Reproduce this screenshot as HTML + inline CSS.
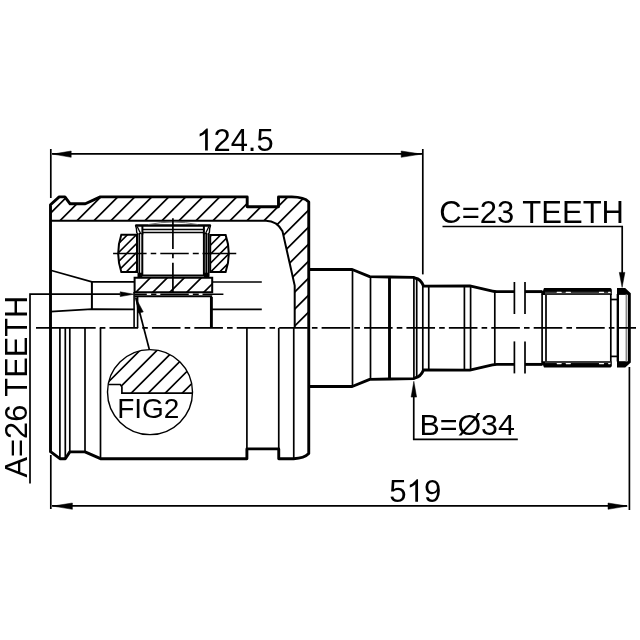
<!DOCTYPE html><html><head><meta charset="utf-8"><style>html,body{margin:0;padding:0;background:#fff;}svg{display:block;will-change:transform;font-family:"Liberation Sans",sans-serif;}</style></head><body><svg width="640" height="640" viewBox="0 0 640 640"><defs><clipPath id="chous"><path d="M50.5 204.8L59.2 196.9L64.9 196.9L70.1 203.8L85.3 203.8L100.3 196.9L247.2 196.9L247.2 206.8L278.5 206.8L278.5 196.9L291.9 196.9Q304 197 308.75 201.9L308.75 327.6L294.7 327.6L294.7 285.6L282.5 231.25Q277 220.9 266 220.75L50.5 220.75Z"/></clipPath><clipPath id="crace"><path d="M134.6 277.8L212.2 277.8L212.2 292.3L134.6 292.3Z"/></clipPath><clipPath id="clring"><path d="M121.3 234.75L137 234.75L137 272L121.3 272Q115.1 253.4 121.3 234.75Z"/></clipPath><clipPath id="crring"><path d="M210.2 234.9L225.6 234.9Q232 253.5 225.6 272.1L210.2 272.1Z"/></clipPath><clipPath id="ccirc"><circle cx="150" cy="392.1" r="42.5"/></clipPath><clipPath id="cfig"><path d="M100 384.5L120.3 384.5L121.9 386.9L121.9 393.1L200 393.1L200 340L100 340Z"/></clipPath></defs><rect width="640" height="640" fill="#fff"/><g stroke="#000" stroke-linecap="butt" fill="none"><path clip-path="url(#chous)" d="M45.00 184.70L315.00 -85.30M45.00 201.70L315.00 -68.30M45.00 218.70L315.00 -51.30M45.00 235.70L315.00 -34.30M45.00 252.70L315.00 -17.30M45.00 269.70L315.00 -0.30M45.00 286.70L315.00 16.70M45.00 303.70L315.00 33.70M45.00 320.70L315.00 50.70M45.00 337.70L315.00 67.70M45.00 354.70L315.00 84.70M45.00 371.70L315.00 101.70M45.00 388.70L315.00 118.70M45.00 405.70L315.00 135.70M45.00 422.70L315.00 152.70M45.00 439.70L315.00 169.70M45.00 456.70L315.00 186.70M45.00 473.70L315.00 203.70M45.00 490.70L315.00 220.70M45.00 507.70L315.00 237.70M45.00 524.70L315.00 254.70M45.00 541.70L315.00 271.70M45.00 558.70L315.00 288.70M45.00 575.70L315.00 305.70M45.00 592.70L315.00 322.70M45.00 609.70L315.00 339.70" stroke-width="1.7" fill="none"/><path d="M50.5 451.7L50.5 204.8L59.2 196.9L64.9 196.9L70.1 203.8L85.3 203.8L100.3 196.9L247.2 196.9L247.2 206.8L278.5 206.8L278.5 196.9L291.9 196.9Q304 197 308.75 201.9L308.75 453.6Q304 458.5 293.75 458.7L278.75 458.7L278.75 448.9L246.9 448.9L246.9 458.7L100.5 458.7L85 451.9L69.8 451.9L65.3 458.7L59.9 458.7L50.5 451.7Z" stroke-width="2.9" fill="none" stroke-linejoin="round"/><path d="M50.5 220.75L266 220.75Q277 220.9 282.5 231.25L294.7 285.6L294.7 327.6" stroke-width="2.0" fill="none" /><line x1="59.9" y1="327.8" x2="59.9" y2="458.7" stroke-width="1.7" /><line x1="65.3" y1="327.8" x2="65.3" y2="458.7" stroke-width="1.7" /><line x1="69.8" y1="327.8" x2="69.8" y2="451.9" stroke-width="1.7" /><line x1="85" y1="327.8" x2="85" y2="451.9" stroke-width="1.7" /><line x1="100.5" y1="327.8" x2="100.5" y2="458.7" stroke-width="1.7" /><line x1="246.9" y1="327.8" x2="246.9" y2="448.9" stroke-width="1.7" /><line x1="278.75" y1="327.8" x2="278.75" y2="448.9" stroke-width="1.7" /><line x1="293.75" y1="327.8" x2="293.75" y2="458.7" stroke-width="1.7" /><path d="M50.5 270.3L91.9 281.9L134.4 281.9" stroke-width="1.7" fill="none" /><path d="M50.5 311.6L91.9 309.2L134.4 309.4" stroke-width="1.7" fill="none" /><line x1="91.9" y1="281.9" x2="91.9" y2="309.2" stroke-width="2.0" /><line x1="212.2" y1="282" x2="261.8" y2="282" stroke-width="1.7" /><line x1="211.25" y1="309.4" x2="261.8" y2="309.4" stroke-width="1.7" /><path clip-path="url(#crace)" d="M130.00 264.10L215.00 179.10M130.00 281.10L215.00 196.10M130.00 298.10L215.00 213.10M130.00 315.10L215.00 230.10M130.00 332.10L215.00 247.10M130.00 349.10L215.00 264.10M130.00 366.10L215.00 281.10M130.00 383.10L215.00 298.10M130.00 400.10L215.00 315.10" stroke-width="1.7" fill="none"/><path d="M134.6 277.8L212.2 277.8L212.2 292.3L134.6 292.3Z" stroke-width="2.0" fill="none" /><line x1="134.6" y1="296.2" x2="212.2" y2="296.2" stroke-width="2.0" /><path d="M134.6 294.3L146.8 294.3M151.1 294.3L156.4 294.3M160.3 294.3L188.75 294.3M192.8 294.3L198.75 294.3M202.5 294.3L223.4 294.3" stroke-width="1.4"/><line x1="134.1" y1="292" x2="134.1" y2="328.0" stroke-width="1.6" /><line x1="137.6" y1="297" x2="137.6" y2="328.0" stroke-width="1.6" /><line x1="211.4" y1="297" x2="211.4" y2="328.0" stroke-width="2.9" /><rect x="137.5" y="272.7" width="5" height="4.7" fill="#000" stroke="none"/><rect x="203.9" y="272.7" width="5.5" height="4.7" fill="#000" stroke="none"/><path clip-path="url(#clring)" d="M110.00 225.20L140.00 195.20M110.00 234.20L140.00 204.20M110.00 243.20L140.00 213.20M110.00 252.20L140.00 222.20M110.00 261.20L140.00 231.20M110.00 270.20L140.00 240.20M110.00 279.20L140.00 249.20M110.00 288.20L140.00 258.20M110.00 297.20L140.00 267.20M110.00 306.20L140.00 276.20" stroke-width="1.6" fill="none"/><path clip-path="url(#crring)" d="M205.00 223.60L240.00 188.60M205.00 232.60L240.00 197.60M205.00 241.60L240.00 206.60M205.00 250.60L240.00 215.60M205.00 259.60L240.00 224.60M205.00 268.60L240.00 233.60M205.00 277.60L240.00 242.60M205.00 286.60L240.00 251.60M205.00 295.60L240.00 260.60M205.00 304.60L240.00 269.60M205.00 313.60L240.00 278.60" stroke-width="1.6" fill="none"/><path d="M121.3 234.75L137 234.75L137 272L121.3 272Q115.1 253.4 121.3 234.75Z" stroke-width="2.0" fill="none" /><path d="M210.2 234.9L225.6 234.9Q232 253.5 225.6 272.1L210.2 272.1Z" stroke-width="2.0" fill="none" /><line x1="135.4" y1="225.5" x2="210.7" y2="225.5" stroke-width="2.6" /><line x1="142.8" y1="229.4" x2="203.7" y2="229.4" stroke-width="1.5" /><line x1="142.8" y1="232.4" x2="203.7" y2="232.4" stroke-width="1.5" /><line x1="142.5" y1="275.4" x2="204.2" y2="275.4" stroke-width="2.0" /><line x1="139.3" y1="233" x2="139.3" y2="276" stroke-width="1.7" /><line x1="142.3" y1="233" x2="142.3" y2="276" stroke-width="2.0" /><line x1="203.9" y1="233" x2="203.9" y2="276" stroke-width="2.0" /><line x1="206.2" y1="233" x2="206.2" y2="276" stroke-width="1.7" /><line x1="208.4" y1="233" x2="208.4" y2="276" stroke-width="1.7" /><line x1="142.4" y1="225" x2="142.4" y2="234.5" stroke-width="2.0" /><line x1="203.9" y1="225" x2="203.9" y2="234.5" stroke-width="2.0" /><path d="M135.5 225L136.4 228.5L136.7 232.2L138 234.8" stroke-width="1.4" fill="none" /><path d="M210.6 225L209.7 228.5L209.4 232.2L208.1 234.8" stroke-width="1.4" fill="none" /><path d="M137.2 226.5L140.8 234" stroke-width="1.3" fill="none" /><path d="M208.9 226.5L205.3 234" stroke-width="1.3" fill="none" /><path d="M148 224.6Q173 219.5 198 224.6" stroke-width="0.9" fill="none" stroke="#666"/><path d="M113.1 253.5L146.6 253.5M150.7 253.5L156.25 253.5M160.3 253.5L188.75 253.5M192.8 253.5L198.75 253.5M202.5 253.5L236.25 253.5" stroke-width="1.7"/><path d="M172.9 218.3L172.9 248.9M172.9 253.5L172.9 258.2M172.9 262.8L172.9 292" stroke-width="1.7"/><path d="M308.75 269.5L352.2 269.5L369.7 276.6L389.5 277L413.5 277.4L415.5 278.3Q420.5 279 423.6 286.1L469.8 285.9L492.5 291.1Q494.5 291.6 497 291.6L514.4 291.6" stroke-width="2.9" fill="none" stroke-linejoin="round"/><path d="M525 291.6L542.5 291.6" stroke-width="2.9" fill="none" /><path d="M308.75 386.5L352.2 386.5L369.7 379.4L389.5 379.0L413.5 378.6L415.5 377.7Q420.5 377.0 423.6 369.9L469.8 370.1L492.5 364.9Q494.5 364.4 497 364.4L514.4 364.4" stroke-width="2.9" fill="none" stroke-linejoin="round"/><path d="M525 364.4L542.5 364.4" stroke-width="2.9" fill="none" /><line x1="352.5" y1="269.5" x2="352.5" y2="386.5" stroke-width="1.7" /><line x1="370.5" y1="276.6" x2="370.5" y2="379.4" stroke-width="1.7" /><line x1="389.5" y1="276.8" x2="389.5" y2="379.2" stroke-width="2.9" /><line x1="413.9" y1="277.5" x2="413.9" y2="378.5" stroke-width="1.7" /><line x1="416.7" y1="278.2" x2="416.7" y2="377.8" stroke-width="1.7" /><line x1="422.8" y1="286" x2="422.8" y2="370.0" stroke-width="1.7" /><line x1="428.75" y1="286" x2="428.75" y2="370.0" stroke-width="1.7" /><line x1="464.4" y1="285.8" x2="464.4" y2="370.2" stroke-width="1.7" /><line x1="470.6" y1="285.8" x2="470.6" y2="370.2" stroke-width="1.7" /><line x1="494.8" y1="291.3" x2="494.8" y2="364.7" stroke-width="1.7" /><line x1="542.1" y1="291" x2="542.1" y2="365.0" stroke-width="1.7" /><line x1="546" y1="291" x2="546" y2="365.0" stroke-width="1.7" /><line x1="514.4" y1="282" x2="514.4" y2="314" stroke-width="1.7" /><line x1="514.4" y1="341.4" x2="514.4" y2="373.4" stroke-width="1.7" /><line x1="525" y1="282" x2="525" y2="314" stroke-width="1.7" /><line x1="525" y1="341.4" x2="525" y2="373.4" stroke-width="1.7" /><path d="M541.5 294.9L544 288L610.5 288Q611.8 288.3 611.8 290L611.8 294.9Z" fill="#000" stroke="none"/><rect x="545" y="291.7" width="66.3" height="3" fill="#3a3a3a" stroke="none"/><path d="M541.5 361.2L544 367.5L610.5 367.5Q611.8 367.2 611.8 365.5L611.8 361.2Z" fill="#000" stroke="none"/><rect x="545" y="361.3" width="66.3" height="1.9" fill="#3a3a3a" stroke="none"/><line x1="557.2" y1="292.4" x2="561.2" y2="292.4" stroke="#fff" stroke-width="1.1" stroke-linecap="round"/><line x1="557.2" y1="363.6" x2="561.2" y2="363.6" stroke="#fff" stroke-width="1.1" stroke-linecap="round"/><line x1="566.2" y1="292.4" x2="570.4" y2="292.4" stroke="#fff" stroke-width="1.1" stroke-linecap="round"/><line x1="566.2" y1="363.6" x2="570.4" y2="363.6" stroke="#fff" stroke-width="1.1" stroke-linecap="round"/><line x1="599.4" y1="292.4" x2="603.6" y2="292.4" stroke="#fff" stroke-width="1.1" stroke-linecap="round"/><line x1="599.4" y1="363.6" x2="603.6" y2="363.6" stroke="#fff" stroke-width="1.1" stroke-linecap="round"/><line x1="608.6" y1="292.4" x2="610" y2="292.4" stroke="#fff" stroke-width="1.1" stroke-linecap="round"/><line x1="608.6" y1="363.6" x2="610" y2="363.6" stroke="#fff" stroke-width="1.1" stroke-linecap="round"/><line x1="610.8" y1="294" x2="610.8" y2="361.5" stroke-width="1.7" /><line x1="617.5" y1="294" x2="617.5" y2="361.5" stroke-width="1.7" /><line x1="611" y1="299.5" x2="617.5" y2="299.5" stroke-width="1.7" /><line x1="611" y1="356.4" x2="617.5" y2="356.4" stroke-width="1.7" /><path d="M617 294.9L617 288L625.2 288L630.8 293.3L630.8 362.5L625.2 367.5L617 367.5L617 361.2Z" fill="#000" stroke="none"/><rect x="619" y="294.9" width="8.9" height="66.3" fill="#fff" stroke="none"/><line x1="626.4" y1="294.5" x2="626.4" y2="361.5" stroke-width="1.7" stroke="#888"/><path d="M36 327.8L95.68 327.8M99.8 327.8L105.4 327.8M109.5 327.8L138.1 327.8M142.22 327.8L147.82 327.8M151.92 327.8L180.52 327.8M184.64 327.8L190.24 327.8M194.34 327.8L222.94 327.8M227.06 327.8L232.66 327.8M236.76 327.8L265.36 327.8M269.48 327.8L275.08 327.8M279.18 327.8L307.78 327.8M311.9 327.8L317.5 327.8M321.6 327.8L350.2 327.8M354.32 327.8L359.92 327.8M364.02 327.8L392.62 327.8M396.74 327.8L402.34 327.8M406.44 327.8L435.04 327.8M439.16 327.8L444.76 327.8M448.86 327.8L477.46 327.8M481.58 327.8L487.18 327.8M491.28 327.8L519.88 327.8M524.0 327.8L529.6 327.8M533.7 327.8L562.3 327.8M566.42 327.8L572.02 327.8M576.12 327.8L604.72 327.8M608.84 327.8L614.44 327.8M618.54 327.8L636 327.8" stroke-width="1.7"/><g clip-path="url(#ccirc)"><path clip-path="url(#cfig)" d="M100.00 339.35L200.00 239.35M100.00 356.35L200.00 256.35M100.00 373.35L200.00 273.35M100.00 390.35L200.00 290.35M100.00 407.35L200.00 307.35M100.00 424.35L200.00 324.35M100.00 441.35L200.00 341.35M100.00 458.35L200.00 358.35M100.00 475.35L200.00 375.35M100.00 492.35L200.00 392.35M100.00 509.35L200.00 409.35" stroke-width="1.7" fill="none"/><path d="M100 384.5L120.3 384.5L121.9 386.9L121.9 393.1L200 393.1" stroke-width="1.7" fill="none" /></g><circle cx="150" cy="392.1" r="42.5" stroke-width="1.4" fill="none"/><line x1="135.8" y1="297.5" x2="149.4" y2="349.7" stroke-width="1.7" /><path d="M135.7 297.8L143.3 311.9L138.3 313.1Z" fill="#000" stroke="#000" stroke-width="0.5" stroke-linejoin="round"/><line x1="50.8" y1="149" x2="50.8" y2="198" stroke-width="1.7" /><line x1="422.8" y1="149" x2="422.8" y2="274.4" stroke-width="1.7" /><line x1="52" y1="153.9" x2="422" y2="153.9" stroke-width="1.7" /><path d="M52.8 154.1L71.2 151.0L71.2 157.3Z" fill="#000" stroke="#000" stroke-width="0.5" stroke-linejoin="round"/><path d="M421.3 154.1L401.2 151.0L401.2 157.3Z" fill="#000" stroke="#000" stroke-width="0.5" stroke-linejoin="round"/><line x1="50.8" y1="455" x2="50.8" y2="509" stroke-width="1.7" /><line x1="629.4" y1="367" x2="629.4" y2="510" stroke-width="1.7" /><line x1="52" y1="505.9" x2="627" y2="505.9" stroke-width="1.7" /><path d="M52.8 506.1L72.4 503.0L72.4 509.3Z" fill="#000" stroke="#000" stroke-width="0.5" stroke-linejoin="round"/><path d="M627.4 506.1L608 503.0L608 509.3Z" fill="#000" stroke="#000" stroke-width="0.5" stroke-linejoin="round"/><path d="M442.5 226.5L622.2 226.5L622.2 280" stroke-width="1.7" fill="none" /><path d="M622.1 287.4L619.3 272.4L624.9 272.4Z" fill="#000" stroke="#000" stroke-width="0.5" stroke-linejoin="round"/><path d="M517.8 439.4L413.75 439.4L413.75 390" stroke-width="1.7" fill="none" /><path d="M413.85 381.3L411.1 397.1L416.6 397.1Z" fill="#000" stroke="#000" stroke-width="0.5" stroke-linejoin="round"/><path d="M30 483.5L30 294.2L120 294.2" stroke-width="1.7" fill="none" /><path d="M133.8 294.2L120.2 291.8L120.2 296.6Z" fill="#000" stroke="#000" stroke-width="0.5" stroke-linejoin="round"/></g><g fill="#000" font-family="Liberation Sans, sans-serif"><path d="M207.81 150.50L205.10 150.50L205.10 133.19L204.12 134.13L201.26 135.82L199.66 136.42L199.66 133.80L202.00 132.70L205.65 129.36L206.50 128.38L207.81 128.38Z"/><text x="213.49" y="150.5" font-size="30.9">24.5</text><text x="439.33" y="222.9" font-size="31.0">C=23 TEETH</text><text x="419.41" y="435.1" font-size="30.4">B=Ø34</text><text x="389.35" y="501.7" font-size="31.2">5</text><path d="M418.03 501.70L415.28 501.70L415.28 484.23L414.29 485.17L411.41 486.88L409.80 487.49L409.80 484.84L412.16 483.72L415.85 480.36L416.70 479.37L418.03 479.37Z"/><text x="424.05" y="501.7" font-size="31.2">9</text><text x="117.20" y="417.7" font-size="28">FIG2</text><text transform="translate(26.8 477.46) rotate(-90)" font-size="30.8">A=26 TEETH</text></g></svg></body></html>
